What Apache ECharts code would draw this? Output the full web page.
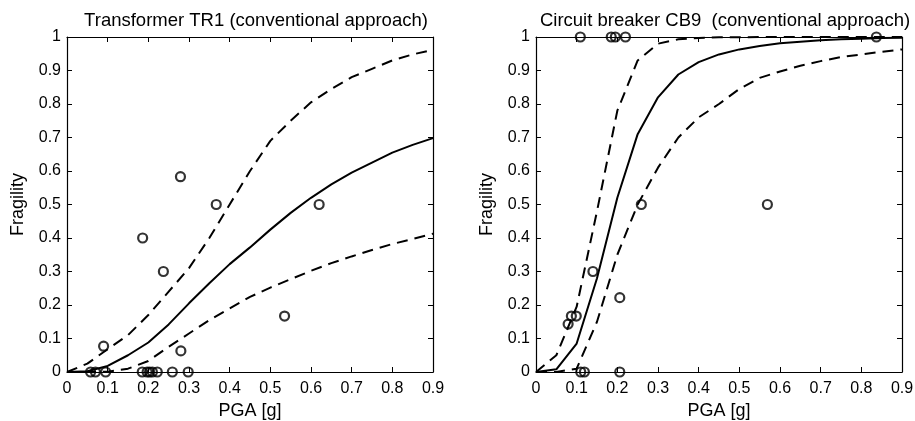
<!DOCTYPE html>
<html>
<head>
<meta charset="utf-8">
<title>Fragility curves</title>
<script src="https://cdn.jsdelivr.net/npm/echarts@6/dist/echarts.min.js"></script>
<style>
  html, body { margin: 0; padding: 0; background: #fff; }
  #chart { width: 915px; height: 421px; }
</style>
</head>
<body>
<div id="chart"></div>
<script>
// PGA grid the curves were plotted on
const pga = [0, 0.05, 0.1, 0.15, 0.2, 0.25, 0.3, 0.35, 0.4, 0.45, 0.5, 0.55, 0.6, 0.65, 0.7, 0.75, 0.8, 0.85, 0.9];

// Transformer TR1
const tr1Median = [0, 0.002, 0.018, 0.05, 0.088, 0.142, 0.205, 0.265, 0.322, 0.372, 0.425, 0.475, 0.52, 0.56, 0.595, 0.625, 0.655, 0.678, 0.698];
const tr1Upper = [0, 0.025, 0.068, 0.11, 0.17, 0.24, 0.31, 0.40, 0.50, 0.60, 0.69, 0.75, 0.805, 0.845, 0.88, 0.905, 0.93, 0.948, 0.962];
const tr1Lower = [0, 0, 0.001, 0.01, 0.033, 0.075, 0.115, 0.155, 0.19, 0.224, 0.252, 0.277, 0.302, 0.325, 0.345, 0.364, 0.382, 0.397, 0.413];
const tr1ObsX = [0.367, 0.620, 0.186, 0.237, 0.090, 0.280, 0.535, 0.279, 0.058, 0.070, 0.095, 0.185, 0.197, 0.203, 0.210, 0.222, 0.259, 0.298];
const tr1ObsY = [0.5, 0.5, 0.4, 0.3, 0.077, 0.063, 0.167, 0.583, 0, 0, 0, 0, 0, 0, 0, 0, 0, 0];

// Circuit breaker CB9
const cb9Median = [0, 0.008, 0.085, 0.28, 0.52, 0.71, 0.82, 0.888, 0.925, 0.948, 0.963, 0.973, 0.981, 0.986, 0.99, 0.993, 0.995, 0.997, 0.998];
const cb9Upper = [0, 0.05, 0.195, 0.48, 0.78, 0.93, 0.98, 0.993, 0.997, 0.999, 0.999, 1, 1, 1, 1, 1, 1, 1, 1];
const cb9Lower = [0, 0, 0.01, 0.15, 0.35, 0.50, 0.61, 0.70, 0.76, 0.80, 0.845, 0.878, 0.897, 0.914, 0.928, 0.94, 0.948, 0.956, 0.963];
const cb9ObsX = [0.109, 0.185, 0.195, 0.220, 0.837, 0.259, 0.569, 0.140, 0.206, 0.079, 0.087, 0.099, 0.110, 0.119, 0.206];
const cb9ObsY = [1, 1, 1, 1, 1, 0.5, 0.5, 0.3, 0.222, 0.143, 0.167, 0.167, 0, 0, 0];

const panelTitles = ['Transformer TR1 (conventional approach)', 'Circuit breaker CB9  (conventional approach)'];

const font = 'Liberation Sans, Arial, Helvetica, sans-serif';
const chart = echarts.init(document.getElementById('chart'));

const pair = (xs, ys) => xs.map((x, i) => [x, ys[i]]);

const frame = { show: true, onZero: false, lineStyle: { color: '#000', width: 1.2 } };
const ticks = { show: true, inside: true, length: 5, lineStyle: { color: '#000', width: 1 } };

function bottomX(gridIndex) {
  return {
    gridIndex: gridIndex, type: 'value', min: 0, max: 0.9, interval: 0.1,
    position: 'bottom',
    name: 'PGA [g]', nameLocation: 'middle', nameGap: 30,
    nameTextStyle: { fontFamily: font, fontSize: 18, color: '#000' },
    axisLine: frame, axisTick: ticks,
    axisLabel: { fontFamily: font, fontSize: 16, color: '#000', margin: 9 },
    splitLine: { show: false }
  };
}
function topX(gridIndex) {
  return {
    gridIndex: gridIndex, type: 'value', min: 0, max: 0.9, interval: 0.1,
    position: 'top',
    axisLine: frame, axisTick: ticks,
    axisLabel: { show: false },
    splitLine: { show: false }
  };
}
function leftY(gridIndex) {
  return {
    gridIndex: gridIndex, type: 'value', min: 0, max: 1, interval: 0.1,
    position: 'left',
    name: 'Fragility', nameLocation: 'middle', nameGap: 40, nameRotate: 90,
    nameTextStyle: { fontFamily: font, fontSize: 18, color: '#000' },
    axisLine: frame, axisTick: ticks,
    axisLabel: { fontFamily: font, fontSize: 16, color: '#000', margin: 6 },
    splitLine: { show: false }
  };
}
function rightY(gridIndex) {
  return {
    gridIndex: gridIndex, type: 'value', min: 0, max: 1, interval: 0.1,
    position: 'right',
    axisLine: frame, axisTick: ticks,
    axisLabel: { show: false },
    splitLine: { show: false }
  };
}

function curve(xi, yi, ys, dashed) {
  return {
    type: 'line', xAxisIndex: xi, yAxisIndex: yi,
    data: pair(pga, ys), showSymbol: false, symbol: 'none',
    lineStyle: { color: '#000', width: 2, type: dashed ? [11, 7] : 'solid' },
    animation: false, z: 2
  };
}
function points(xi, yi, xs, ys) {
  return {
    type: 'scatter', xAxisIndex: xi, yAxisIndex: yi,
    data: pair(xs, ys), symbol: 'circle', symbolSize: 9, clip: false,
    itemStyle: { color: 'rgba(0,0,0,0)', borderColor: '#000', borderWidth: 2.2 },
    animation: false, z: 3
  };
}

const option = {
  backgroundColor: '#fff',
  animation: false,
  title: [
    { text: panelTitles[0], left: 251, top: 6, textAlign: 'center',
      textStyle: { fontFamily: font, fontSize: 18.5, fontWeight: 'normal', color: '#000' } },
    { text: panelTitles[1], left: 720, top: 6, textAlign: 'center',
      textStyle: { fontFamily: font, fontSize: 18.5, fontWeight: 'normal', color: '#000' } }
  ],
  grid: [
    { left: 67, top: 37, width: 366, height: 335, outerBoundsMode: 'none' },
    { left: 536, top: 37, width: 366, height: 335, outerBoundsMode: 'none' }
  ],
  xAxis: [bottomX(0), topX(0), bottomX(1), topX(1)],
  yAxis: [leftY(0), rightY(0), leftY(1), rightY(1)],
  series: [
    curve(0, 0, tr1Median, false),
    curve(0, 0, tr1Upper, true),
    curve(0, 0, tr1Lower, true),
    points(0, 0, tr1ObsX, tr1ObsY),
    curve(2, 2, cb9Median, false),
    curve(2, 2, cb9Upper, true),
    curve(2, 2, cb9Lower, true),
    points(2, 2, cb9ObsX, cb9ObsY)
  ]
};

chart.setOption(option);
</script>
</body>
</html>
